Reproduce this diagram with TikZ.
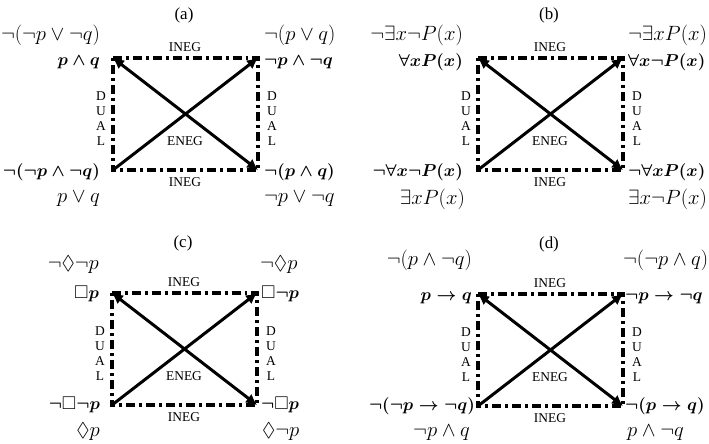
\documentclass[tikz,border=0pt]{standalone}
\usepackage{amsmath,amssymb}
\usepackage{fontspec}
\setmainfont{Liberation Serif}
\usetikzlibrary{positioning,arrows.meta}

\tikzset{
  side/.style={line width=3.6pt, dash pattern=on 9pt off 4pt on 3pt off 4pt},
  diag/.style={line width=3pt},
  tag/.style={font=\fontsize{13.5}{15}\selectfont, inner sep=0pt},
  captag/.style={font=\fontsize{17}{20}\selectfont, inner sep=0pt},
  lab/.style={font=\fontsize{20}{24}\selectfont, inner sep=0pt},
  blab/.style={font=\fontsize{18.5}{22}\selectfont\boldmath, inner sep=0pt},
}

\begin{document}
\begin{tikzpicture}[x=1bp, y=-1bp, >={Latex[length=11pt,width=11pt]}]

  \useasboundingbox (0,0) rectangle (709,444);

  %% ---- Squares: frame, diagonals, relation tags ----
  \foreach \pn/\lx/\ty/\cy in {a/113/58/15, b/478/58/15, c/112/293/243, d/478/294/244}{
    \coordinate (tl-\pn) at (\lx,\ty);
    \coordinate (tr-\pn) at (\lx+145,\ty);
    \coordinate (bl-\pn) at (\lx,\ty+112);
    \coordinate (br-\pn) at (\lx+145,\ty+112);
    \draw[side] (tl-\pn) -- (tr-\pn) -- (br-\pn) -- (bl-\pn) -- cycle;
    \draw[diag, <->] (tl-\pn) -- (br-\pn);
    \draw[diag, ->] (bl-\pn) -- (tr-\pn);
    \node[captag] (cap-\pn) at (\lx+71,\cy) {(\pn)};
    \node[tag] (inegt-\pn) at (\lx+72,\ty-11) {INEG};
    \node[tag] (inegb-\pn) at (\lx+72,\ty+124) {INEG};
    \node[tag] (eneg-\pn) at (\lx+72,\ty+83) {ENEG};
    \node[tag, align=center] (dual1-\pn) at (\lx-12,\ty+61) {D\\U\\A\\L};
    \node[tag, align=center] (dual2-\pn) at (\lx+159,\ty+61) {D\\U\\A\\L};
  }

  %% ---- (a) propositional ----
  \node[lab,  left=13pt of tl-a, yshift=23pt]   (a-tl-up) {$\neg(\neg p \vee \neg q)$};
  \node[blab, left=13pt of tl-a, yshift=-4pt]   (a-tl)    {$p \wedge q$};
  \node[lab,  right=6pt of tr-a, yshift=23pt]   (a-tr-up) {$\neg(p \vee q)$};
  \node[blab, right=6pt of tr-a, yshift=-4pt]   (a-tr)    {$\neg p \wedge \neg q$};
  \node[blab, left=13pt of bl-a, yshift=-2pt]   (a-bl)    {$\neg(\neg p \wedge \neg q)$};
  \node[lab,  left=13pt of bl-a, yshift=-29pt]  (a-bl-lo) {$p \vee q$};
  \node[blab, right=6pt of br-a, yshift=-2pt]   (a-br)    {$\neg(p \wedge q)$};
  \node[lab,  right=6pt of br-a, yshift=-29pt]  (a-br-lo) {$\neg p \vee \neg q$};

  %% ---- (b) quantifiers ----
  \node[lab,  left=15pt of tl-b, yshift=23pt]   (b-tl-up) {$\neg\exists x \neg P(x)$};
  \node[blab, left=15pt of tl-b, yshift=-4pt]   (b-tl)    {$\forall x P(x)$};
  \node[lab,  right=5pt of tr-b, yshift=23pt]   (b-tr-up) {$\neg\exists x P(x)$};
  \node[blab, right=5pt of tr-b, yshift=-4pt]   (b-tr)    {$\forall x \neg P(x)$};
  \node[blab, left=15pt of bl-b, yshift=-2pt]   (b-bl)    {$\neg\forall x \neg P(x)$};
  \node[lab,  left=13pt of bl-b, yshift=-29pt]  (b-bl-lo) {$\exists x P(x)$};
  \node[blab, right=5pt of br-b, yshift=-2pt]   (b-br)    {$\neg\forall x P(x)$};
  \node[lab,  right=5pt of br-b, yshift=-29pt]  (b-br-lo) {$\exists x \neg P(x)$};

  %% ---- (c) modal ----
  \node[lab,  left=13pt of tl-c, yshift=28pt]   (c-tl-up) {$\neg\Diamond\neg p$};
  \node[blab, left=13pt of tl-c, yshift=-1pt]   (c-tl)    {$\Box p$};
  \node[lab,  right=3pt of tr-c, yshift=28pt]   (c-tr-up) {$\neg\Diamond p$};
  \node[blab, right=4pt of tr-c, yshift=-1pt]   (c-tr)    {$\Box\neg p$};
  \node[blab, left=12pt of bl-c, yshift=0pt]    (c-bl)    {$\neg\Box\neg p$};
  \node[lab,  left=12pt of bl-c, yshift=-27pt]  (c-bl-lo) {$\Diamond p$};
  \node[blab, right=4pt of br-c, yshift=0pt]    (c-br)    {$\neg\Box p$};
  \node[lab,  right=5pt of br-c, yshift=-27pt]  (c-br-lo) {$\Diamond\neg p$};

  %% ---- (d) conditionals ----
  \node[lab,  left=6pt of tl-d, yshift=34pt]    (d-tl-up) {$\neg(p \wedge \neg q)$};
  \node[blab, left=6pt of tl-d, yshift=-4pt]    (d-tl)    {$p \rightarrow q$};
  \node[lab,  right=0pt of tr-d, yshift=34pt]   (d-tr-up) {$\neg(\neg p \wedge q)$};
  \node[blab, right=2pt of tr-d, yshift=-4pt]   (d-tr)    {$\neg p \rightarrow \neg q$};
  \node[blab, left=3pt of bl-d, yshift=0pt]     (d-bl)    {$\neg(\neg p \rightarrow \neg q)$};
  \node[lab,  left=8pt of bl-d, yshift=-27pt]   (d-bl-lo) {$\neg p \wedge q$};
  \node[blab, right=2pt of br-d, yshift=0pt]    (d-br)    {$\neg(p \rightarrow q)$};
  \node[lab,  right=4pt of br-d, yshift=-27pt]  (d-br-lo) {$p \wedge \neg q$};

\end{tikzpicture}
\end{document}
